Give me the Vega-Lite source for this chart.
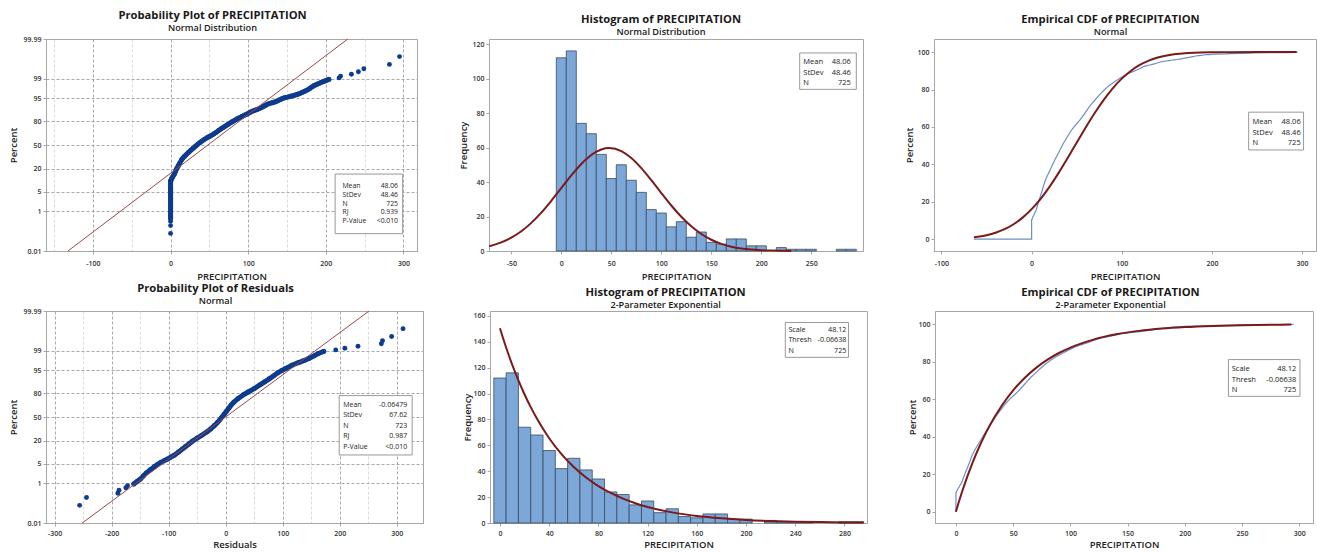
{
  "$schema": "https://vega.github.io/schema/vega-lite/v6.json",
  "background": "white",
  "padding": {"left": 7, "top": 9, "right": 0, "bottom": 0},
  "config": {
    "font": "Open Sans",
    "view": {"stroke": "#a6a6a6", "strokeWidth": 1},
    "axis": {"labelFontSize": 7, "labelFontWeight": 600, "labelColor": "#333333", "titleFontSize": 9.5, "titleFontWeight": 600, "titleColor": "#222222", "domainColor": "#a6a6a6", "tickColor": "#a6a6a6", "tickSize": 3, "labelPadding": 2, "grid": false, "labelOverlap": false, "tickCount": 30},
    "axisX": {"titlePadding": 5, "labelPadding": 5},
    "title": {"fontSize": 11.2, "fontWeight": "bold", "color": "#1a1a1a", "subtitleFontSize": 9.2, "subtitleFontWeight": 600, "subtitleColor": "#1a1a1a", "anchor": "middle", "frame": "bounds", "subtitlePadding": 3}
  },
  "datasets": {
    "one": [{"id": 1}],
    "precip": [
      {"x": -64, "pct": 0, "k": "s"}, {"x": 0, "pct": 0, "k": "s"},
      {"x": 0, "pct": 0.0965, "k": "o"}, {"x": 0, "pct": 0.234, "k": "o"}, {"x": 0, "pct": 0.372, "k": "o"},
      {"x": 0, "pct": 0.511, "k": "d"}, {"x": 0, "pct": 0.7, "k": "d"}, {"x": 0, "pct": 1, "k": "d"}, {"x": 0, "pct": 1.5, "k": "d"}, {"x": 0, "pct": 2.2, "k": "d"}, {"x": 0, "pct": 3, "k": "d"}, {"x": 0, "pct": 4, "k": "d"}, {"x": 0, "pct": 5.2, "k": "d"}, {"x": 0, "pct": 6.5, "k": "d"}, {"x": 0, "pct": 8, "k": "d"}, {"x": 0, "pct": 9.5, "k": "d"}, {"x": 0, "pct": 10.3, "k": "d"},
      {"x": 0.3, "pct": 10.4, "k": "d"}, {"x": 0.8, "pct": 11.2, "k": "d"}, {"x": 1.5, "pct": 12, "k": "d"}, {"x": 2.5, "pct": 13, "k": "d"}, {"x": 3.5, "pct": 14, "k": "d"}, {"x": 5, "pct": 15.5, "k": "d"}, {"x": 6.5, "pct": 18, "k": "d"}, {"x": 8, "pct": 20.5, "k": "d"}, {"x": 10, "pct": 23.4, "k": "d"}, {"x": 12, "pct": 26.5, "k": "d"}, {"x": 14, "pct": 29.8, "k": "d"}, {"x": 16, "pct": 32.4, "k": "d"}, {"x": 18, "pct": 34.5, "k": "d"}, {"x": 20, "pct": 36.5, "k": "d"}, {"x": 23, "pct": 39.6, "k": "d"}, {"x": 26, "pct": 42.6, "k": "d"}, {"x": 29, "pct": 45.4, "k": "d"}, {"x": 32, "pct": 48.2, "k": "d"}, {"x": 35, "pct": 51, "k": "d"}, {"x": 38, "pct": 53.4, "k": "d"}, {"x": 41, "pct": 55.8, "k": "d"}, {"x": 44, "pct": 58.1, "k": "d"}, {"x": 47, "pct": 60, "k": "d"}, {"x": 50, "pct": 61.7, "k": "d"}, {"x": 53, "pct": 63.4, "k": "d"}, {"x": 56, "pct": 65.3, "k": "d"}, {"x": 59, "pct": 67.3, "k": "d"}, {"x": 62, "pct": 69.4, "k": "d"}, {"x": 65, "pct": 71.4, "k": "d"}, {"x": 68, "pct": 73.1, "k": "d"}, {"x": 71, "pct": 74.8, "k": "d"}, {"x": 74, "pct": 76.5, "k": "d"}, {"x": 77, "pct": 78.1, "k": "d"}, {"x": 80, "pct": 79.5, "k": "d"}, {"x": 83, "pct": 80.9, "k": "d"}, {"x": 86, "pct": 82.1, "k": "d"}, {"x": 89, "pct": 83.1, "k": "d"}, {"x": 92, "pct": 84.1, "k": "d"}, {"x": 95, "pct": 85.1, "k": "d"}, {"x": 98, "pct": 86, "k": "d"}, {"x": 101, "pct": 86.9, "k": "d"}, {"x": 104, "pct": 87.8, "k": "d"}, {"x": 107, "pct": 88.5, "k": "d"}, {"x": 110, "pct": 89.1, "k": "d"}, {"x": 113, "pct": 89.7, "k": "d"}, {"x": 116, "pct": 90.3, "k": "d"}, {"x": 119, "pct": 91, "k": "d"}, {"x": 122, "pct": 91.7, "k": "d"}, {"x": 125, "pct": 92.4, "k": "d"}, {"x": 128, "pct": 92.8, "k": "d"}, {"x": 131, "pct": 93.1, "k": "d"}, {"x": 134, "pct": 93.4, "k": "d"}, {"x": 137, "pct": 93.8, "k": "d"}, {"x": 140, "pct": 94.3, "k": "d"}, {"x": 143, "pct": 94.7, "k": "d"}, {"x": 146, "pct": 95.05, "k": "d"}, {"x": 149, "pct": 95.25, "k": "d"}, {"x": 152, "pct": 95.45, "k": "d"}, {"x": 155, "pct": 95.65, "k": "d"}, {"x": 158, "pct": 95.85, "k": "d"}, {"x": 161, "pct": 96.05, "k": "d"}, {"x": 164, "pct": 96.25, "k": "d"}, {"x": 167, "pct": 96.5, "k": "d"}, {"x": 170, "pct": 96.8, "k": "d"}, {"x": 173, "pct": 97.05, "k": "d"}, {"x": 176, "pct": 97.3, "k": "d"}, {"x": 179, "pct": 97.6, "k": "d"}, {"x": 182, "pct": 97.9, "k": "d"}, {"x": 185, "pct": 98.15, "k": "d"}, {"x": 188, "pct": 98.3, "k": "d"}, {"x": 191, "pct": 98.45, "k": "d"}, {"x": 194, "pct": 98.6, "k": "d"}, {"x": 197, "pct": 98.7, "k": "d"}, {"x": 200, "pct": 98.8, "k": "d"}, {"x": 204, "pct": 98.93, "k": "d"},
      {"x": 217, "pct": 99.07, "k": "o"}, {"x": 219, "pct": 99.21, "k": "o"}, {"x": 233, "pct": 99.35, "k": "o"}, {"x": 242, "pct": 99.49, "k": "o"}, {"x": 249, "pct": 99.628, "k": "o"}, {"x": 282, "pct": 99.766, "k": "o"}, {"x": 295, "pct": 99.904, "k": "o"}
    ],
    "resid": [
      {"x": -256, "pct": 0.0968, "k": "o"}, {"x": -244, "pct": 0.235, "k": "o"}, {"x": -189, "pct": 0.373, "k": "o"}, {"x": -187, "pct": 0.511, "k": "o"}, {"x": -175, "pct": 0.65, "k": "o"}, {"x": -172, "pct": 0.788, "k": "o"},
      {"x": -161, "pct": 0.94, "k": "d"}, {"x": -155, "pct": 1.2, "k": "d"}, {"x": -149, "pct": 1.5, "k": "d"}, {"x": -144, "pct": 1.95, "k": "d"}, {"x": -139, "pct": 2.5, "k": "d"}, {"x": -132, "pct": 3.2, "k": "d"}, {"x": -125.3, "pct": 4, "k": "d"}, {"x": -120, "pct": 4.7, "k": "d"}, {"x": -114, "pct": 5.5, "k": "d"}, {"x": -108, "pct": 6.2, "k": "d"}, {"x": -101.7, "pct": 7, "k": "d"}, {"x": -96, "pct": 8, "k": "d"}, {"x": -90.1, "pct": 9, "k": "d"}, {"x": -82.5, "pct": 11, "k": "d"}, {"x": -75.9, "pct": 13, "k": "d"}, {"x": -70.2, "pct": 15, "k": "d"}, {"x": -64.9, "pct": 17, "k": "d"}, {"x": -57.8, "pct": 20, "k": "d"}, {"x": -49.9, "pct": 23, "k": "d"}, {"x": -42.1, "pct": 26, "k": "d"}, {"x": -33, "pct": 30, "k": "d"}, {"x": -25.8, "pct": 34, "k": "d"}, {"x": -19.9, "pct": 38, "k": "d"}, {"x": -14.9, "pct": 42, "k": "d"}, {"x": -10.2, "pct": 46, "k": "d"}, {"x": -6.4, "pct": 50, "k": "d"}, {"x": -2.5, "pct": 54, "k": "d"}, {"x": 1.5, "pct": 58, "k": "d"}, {"x": 5.4, "pct": 62, "k": "d"}, {"x": 9.4, "pct": 66, "k": "d"}, {"x": 14.6, "pct": 70, "k": "d"}, {"x": 21.5, "pct": 74, "k": "d"}, {"x": 30.5, "pct": 78, "k": "d"}, {"x": 39.6, "pct": 81, "k": "d"}, {"x": 50, "pct": 84, "k": "d"}, {"x": 60, "pct": 87, "k": "d"}, {"x": 67.8, "pct": 89, "k": "d"}, {"x": 76.5, "pct": 91, "k": "d"}, {"x": 83.7, "pct": 92.5, "k": "d"}, {"x": 91.5, "pct": 94, "k": "d"}, {"x": 98, "pct": 94.8, "k": "d"}, {"x": 104.5, "pct": 95.5, "k": "d"}, {"x": 115.7, "pct": 96.5, "k": "d"}, {"x": 128, "pct": 97.2, "k": "d"}, {"x": 137, "pct": 97.6, "k": "d"}, {"x": 146, "pct": 98, "k": "d"}, {"x": 155, "pct": 98.4, "k": "d"}, {"x": 162.6, "pct": 98.7, "k": "d"}, {"x": 172, "pct": 98.93, "k": "d"},
      {"x": 193, "pct": 99.074, "k": "o"}, {"x": 209, "pct": 99.212, "k": "o"}, {"x": 232, "pct": 99.35, "k": "o"}, {"x": 273, "pct": 99.489, "k": "o"}, {"x": 275, "pct": 99.627, "k": "o"}, {"x": 291, "pct": 99.765, "k": "o"}, {"x": 311, "pct": 99.903, "k": "o"}
    ],
    "hist": [
      {"b0": -5, "b1": 5, "n": 112}, {"b0": 5, "b1": 15, "n": 116}, {"b0": 15, "b1": 25, "n": 74}, {"b0": 25, "b1": 35, "n": 68}, {"b0": 35, "b1": 45, "n": 56}, {"b0": 45, "b1": 55, "n": 42}, {"b0": 55, "b1": 65, "n": 50}, {"b0": 65, "b1": 75, "n": 41}, {"b0": 75, "b1": 85, "n": 34}, {"b0": 85, "b1": 95, "n": 24}, {"b0": 95, "b1": 105, "n": 22}, {"b0": 105, "b1": 115, "n": 14}, {"b0": 115, "b1": 125, "n": 17}, {"b0": 125, "b1": 135, "n": 8}, {"b0": 135, "b1": 145, "n": 11}, {"b0": 145, "b1": 155, "n": 5}, {"b0": 155, "b1": 165, "n": 4}, {"b0": 165, "b1": 175, "n": 7}, {"b0": 175, "b1": 185, "n": 7}, {"b0": 185, "b1": 195, "n": 3}, {"b0": 195, "b1": 205, "n": 3}, {"b0": 215, "b1": 225, "n": 2}, {"b0": 225, "b1": 235, "n": 1}, {"b0": 235, "b1": 245, "n": 1}, {"b0": 245, "b1": 255, "n": 1}, {"b0": 275, "b1": 285, "n": 1}, {"b0": 285, "b1": 295, "n": 1}
    ],
    "npdf": [
      {"x": -72, "f": 2.77}, {"x": -60, "f": 4.97}, {"x": -50, "f": 7.71}, {"x": -40, "f": 11.45}, {"x": -30, "f": 16.3}, {"x": -20, "f": 22.26}, {"x": -10, "f": 29.12}, {"x": 0, "f": 36.49}, {"x": 10, "f": 43.84}, {"x": 20, "f": 50.47}, {"x": 30, "f": 55.68}, {"x": 40, "f": 58.86}, {"x": 48, "f": 59.68}, {"x": 60, "f": 57.9}, {"x": 70, "f": 53.87}, {"x": 80, "f": 48.03}, {"x": 90, "f": 41.04}, {"x": 100, "f": 33.61}, {"x": 110, "f": 26.37}, {"x": 120, "f": 19.83}, {"x": 130, "f": 14.29}, {"x": 140, "f": 9.87}, {"x": 150, "f": 6.53}, {"x": 160, "f": 4.14}, {"x": 170, "f": 2.52}, {"x": 180, "f": 1.47}, {"x": 190, "f": 0.82}, {"x": 200, "f": 0.44}, {"x": 210, "f": 0.22}, {"x": 220, "f": 0.11}, {"x": 230, "f": 0.05}
    ],
    "epdf": [
      {"x": 0, "f": 150.5}, {"x": 5, "f": 135.6}, {"x": 10, "f": 122.2}, {"x": 15, "f": 110.2}, {"x": 20, "f": 99.3}, {"x": 25, "f": 89.5}, {"x": 30, "f": 80.7}, {"x": 40, "f": 65.5}, {"x": 50, "f": 53.2}, {"x": 60, "f": 43.2}, {"x": 70, "f": 35.1}, {"x": 80, "f": 28.5}, {"x": 90, "f": 23.2}, {"x": 100, "f": 18.8}, {"x": 110, "f": 15.3}, {"x": 120, "f": 12.4}, {"x": 140, "f": 8.2}, {"x": 160, "f": 5.4}, {"x": 180, "f": 3.6}, {"x": 200, "f": 2.36}, {"x": 220, "f": 1.56}, {"x": 240, "f": 1.03}, {"x": 260, "f": 0.68}, {"x": 280, "f": 0.45}, {"x": 296, "f": 0.33}
    ],
    "ncdf": [
      {"x": -64, "p": 1.04}, {"x": -50, "p": 2.15}, {"x": -40, "p": 3.46}, {"x": -30, "p": 5.36}, {"x": -20, "p": 8.01}, {"x": -10, "p": 11.54}, {"x": 0, "p": 16.07}, {"x": 10, "p": 21.61}, {"x": 20, "p": 28.13}, {"x": 30, "p": 35.47}, {"x": 40, "p": 43.4}, {"x": 50, "p": 51.6}, {"x": 60, "p": 59.73}, {"x": 70, "p": 67.46}, {"x": 80, "p": 74.51}, {"x": 90, "p": 80.66}, {"x": 100, "p": 85.81}, {"x": 110, "p": 89.94}, {"x": 120, "p": 93.12}, {"x": 130, "p": 95.46}, {"x": 140, "p": 97.11}, {"x": 150, "p": 98.23}, {"x": 160, "p": 98.96}, {"x": 170, "p": 99.41}, {"x": 180, "p": 99.68}, {"x": 200, "p": 99.91}, {"x": 220, "p": 99.98}, {"x": 250, "p": 100}, {"x": 294, "p": 100}
    ],
    "xcdf": [
      {"x": -0.066, "p": 0}, {"x": 2.5, "p": 5.19}, {"x": 5, "p": 9.99}, {"x": 10, "p": 18.88}, {"x": 15, "p": 26.88}, {"x": 20, "p": 34.1}, {"x": 25, "p": 40.6}, {"x": 30, "p": 46.46}, {"x": 40, "p": 56.51}, {"x": 50, "p": 64.67}, {"x": 60, "p": 71.3}, {"x": 70, "p": 76.68}, {"x": 80, "p": 81.06}, {"x": 90, "p": 84.61}, {"x": 100, "p": 87.5}, {"x": 120, "p": 91.75}, {"x": 140, "p": 94.56}, {"x": 160, "p": 96.41}, {"x": 180, "p": 97.63}, {"x": 200, "p": 98.44}, {"x": 225, "p": 99.07}, {"x": 250, "p": 99.45}, {"x": 275, "p": 99.67}, {"x": 293, "p": 99.77}
    ],
    "fit1": [{"x": -132.2, "pct": 0.01}, {"x": 228.3, "pct": 99.99}],
    "fit4": [{"x": -251.5, "pct": 0.01}, {"x": 251.4, "pct": 99.99}]
  },
  "spacing": 1,
  "vconcat": [
    {
      "spacing": 40,
      "hconcat": [
        {
          "width": 371, "height": 212,
          "title": {"text": "Probability Plot of PRECIPITATION", "subtitle": "Normal Distribution", "offset": 1.5},
          "layer": [
            {
              "data": {"name": "precip"},
              "transform": [{"filter": "datum.k === 'd'"}, {"calculate": "quantileNormal(datum.pct / 100)", "as": "z"}],
              "mark": {"type": "line", "color": "#0d3b8e", "strokeWidth": 5, "strokeCap": "round", "strokeJoin": "round"},
              "encoding": {
                "x": {"field": "x", "type": "quantitative", "title": "PRECIPITATION", "scale": {"domain": [-160.5, 317.5], "nice": false, "zero": false},
                      "axis": {"values": [-150, -100, -50, 0, 50, 100, 150, 200, 250, 300], "grid": true, "gridDash": [3, 2],
                               "labelExpr": "datum.value % 100 === 0 ? '' + datum.value : ''",
                               "gridColor": {"condition": {"test": "datum.value % 100 === 0", "value": "#a8a8a8"}, "value": "#dcdcdc"},
                               "tickOpacity": {"condition": {"test": "datum.value % 100 === 0", "value": 1}, "value": 0}}},
                "y": {"field": "z", "type": "quantitative", "title": "Percent", "scale": {"domain": [-3.719016, 3.719016], "nice": false, "zero": false},
                      "axis": {"values": [-3.719016, -2.326348, -1.644854, -0.841621, 0, 0.841621, 1.644854, 2.326348, 3.719016], "grid": true, "gridDash": [3, 2], "gridColor": "#a8a8a8",
                               "labelExpr": "'' + round(cumulativeNormal(datum.value) * 10000) / 100", "titlePadding": 5}},
                "order": {"field": "pct", "type": "quantitative"}
              }
            },
            {
              "data": {"name": "precip"},
              "transform": [{"filter": "datum.k !== 's'"}, {"calculate": "quantileNormal(datum.pct / 100)", "as": "z"}],
              "mark": {"type": "point", "filled": true, "opacity": 1, "size": 24, "color": "#0d3b8e"},
              "encoding": {"x": {"field": "x", "type": "quantitative", "title": "PRECIPITATION"}, "y": {"field": "z", "type": "quantitative", "title": "Percent"}}
            },
            {
              "data": {"name": "fit1"},
              "transform": [{"calculate": "quantileNormal(datum.pct / 100)", "as": "z"}],
              "mark": {"type": "line", "color": "#9e4646", "strokeWidth": 1},
              "encoding": {"x": {"field": "x", "type": "quantitative", "title": "PRECIPITATION"}, "y": {"field": "z", "type": "quantitative", "title": "Percent"}}
            },
            {
              "data": {"name": "one"},
              "mark": {"type": "rect", "fill": "white", "stroke": "#999999", "strokeWidth": 1},
              "encoding": {"x": {"datum": 212, "type": "quantitative", "title": "PRECIPITATION"}, "x2": {"datum": 299}, "y": {"datum": -1.02, "type": "quantitative", "title": "Percent"}, "y2": {"datum": -3.11}}
            },
            {
              "data": {"name": "one"},
              "mark": {"type": "text", "text": ["Mean", "StDev", "N", "RJ", "P-Value"], "align": "left", "baseline": "alphabetic", "fontSize": 6.8, "lineHeight": 8.7, "color": "#222222"},
              "encoding": {"x": {"datum": 221.5, "type": "quantitative", "title": "PRECIPITATION"}, "y": {"datum": -1.52, "type": "quantitative", "title": "Percent"}}
            },
            {
              "data": {"name": "one"},
              "mark": {"type": "text", "text": ["48.06", "48.46", "725", "0.939", "<0.010"], "align": "right", "baseline": "alphabetic", "fontSize": 6.8, "lineHeight": 8.7, "color": "#222222"},
              "encoding": {"x": {"datum": 293, "type": "quantitative", "title": "PRECIPITATION"}, "y": {"datum": -1.52, "type": "quantitative", "title": "Percent"}}
            }
          ]
        },
        {
          "width": 374, "height": 212,
          "title": {"text": "Histogram of PRECIPITATION", "subtitle": "Normal Distribution", "offset": 1.5},
          "layer": [
            {
              "data": {"name": "hist"},
              "mark": {"type": "bar", "fill": "#7ba7d9", "stroke": "#3b4a5e", "strokeWidth": 0.8},
              "encoding": {
                "x": {"field": "b0", "type": "quantitative", "title": "PRECIPITATION", "scale": {"domain": [-72.3, 301.7], "nice": false, "zero": false},
                      "axis": {"values": [-50, 0, 50, 100, 150, 200, 250], "labelExpr": "'' + datum.value"}},
                "x2": {"field": "b1"},
                "y": {"field": "n", "type": "quantitative", "title": "Frequency", "scale": {"domain": [0, 122.9], "nice": false, "zero": false},
                      "axis": {"values": [0, 20, 40, 60, 80, 100, 120], "titlePadding": 3}},
                "y2": {"datum": 0}
              }
            },
            {
              "data": {"name": "npdf"},
              "mark": {"type": "line", "color": "#7a1a1a", "strokeWidth": 2, "interpolate": "monotone"},
              "encoding": {"x": {"field": "x", "type": "quantitative", "title": "PRECIPITATION"}, "y": {"field": "f", "type": "quantitative", "title": "Frequency"}}
            },
            {
              "data": {"name": "one"},
              "mark": {"type": "rect", "fill": "white", "stroke": "#999999", "strokeWidth": 1},
              "encoding": {"x": {"datum": 238.4, "type": "quantitative", "title": "PRECIPITATION"}, "x2": {"datum": 295}, "y": {"datum": 114.8, "type": "quantitative", "title": "Frequency"}, "y2": {"datum": 93.7}}
            },
            {
              "data": {"name": "one"},
              "mark": {"type": "text", "text": ["Mean", "StDev", "N"], "align": "left", "baseline": "alphabetic", "fontSize": 7.5, "lineHeight": 10.7, "color": "#222222"},
              "encoding": {"x": {"datum": 242, "type": "quantitative", "title": "PRECIPITATION"}, "y": {"datum": 108.4, "type": "quantitative", "title": "Frequency"}}
            },
            {
              "data": {"name": "one"},
              "mark": {"type": "text", "text": ["48.06", "48.46", "725"], "align": "right", "baseline": "alphabetic", "fontSize": 7.5, "lineHeight": 10.7, "color": "#222222"},
              "encoding": {"x": {"datum": 289.5, "type": "quantitative", "title": "PRECIPITATION"}, "y": {"datum": 108.4, "type": "quantitative", "title": "Frequency"}}
            }
          ]
        },
        {
          "width": 382, "height": 212,
          "title": {"text": "Empirical CDF of PRECIPITATION", "subtitle": "Normal", "offset": 1.5},
          "layer": [
            {
              "data": {"name": "precip"},
              "mark": {"type": "line", "color": "#6e8fc6", "strokeWidth": 1.2},
              "encoding": {
                "x": {"field": "x", "type": "quantitative", "title": "PRECIPITATION", "scale": {"domain": [-108.3, 315.5], "nice": false, "zero": false},
                      "axis": {"values": [-100, 0, 100, 200, 300], "labelExpr": "'' + datum.value"}},
                "y": {"field": "pct", "type": "quantitative", "title": "Percent", "scale": {"domain": [-6.3, 107], "nice": false, "zero": false},
                      "axis": {"values": [0, 20, 40, 60, 80, 100], "titlePadding": 2}},
                "order": [{"field": "pct", "type": "quantitative"}, {"field": "x", "type": "quantitative"}]
              }
            },
            {
              "data": {"name": "ncdf"},
              "mark": {"type": "line", "color": "#7a1a1a", "strokeWidth": 2, "interpolate": "monotone"},
              "encoding": {"x": {"field": "x", "type": "quantitative", "title": "PRECIPITATION"}, "y": {"field": "p", "type": "quantitative", "title": "Percent"}}
            },
            {
              "data": {"name": "one"},
              "mark": {"type": "rect", "fill": "white", "stroke": "#999999", "strokeWidth": 1},
              "encoding": {"x": {"datum": 240.8, "type": "quantitative", "title": "PRECIPITATION"}, "x2": {"datum": 301.7}, "y": {"datum": 67.9, "type": "quantitative", "title": "Percent"}, "y2": {"datum": 47.7}}
            },
            {
              "data": {"name": "one"},
              "mark": {"type": "text", "text": ["Mean", "StDev", "N"], "align": "left", "baseline": "alphabetic", "fontSize": 7.5, "lineHeight": 10.3, "color": "#222222"},
              "encoding": {"x": {"datum": 245, "type": "quantitative", "title": "PRECIPITATION"}, "y": {"datum": 61.4, "type": "quantitative", "title": "Percent"}}
            },
            {
              "data": {"name": "one"},
              "mark": {"type": "text", "text": ["48.06", "48.46", "725"], "align": "right", "baseline": "alphabetic", "fontSize": 7.5, "lineHeight": 10.3, "color": "#222222"},
              "encoding": {"x": {"datum": 298.5, "type": "quantitative", "title": "PRECIPITATION"}, "y": {"datum": 61.4, "type": "quantitative", "title": "Percent"}}
            }
          ]
        }
      ]
    },
    {
      "spacing": 38,
      "hconcat": [
        {
          "width": 377, "height": 212,
          "title": {"text": "Probability Plot of Residuals", "subtitle": "Normal", "offset": 0.5},
          "layer": [
            {
              "data": {"name": "resid"},
              "transform": [{"filter": "datum.k === 'd'"}, {"calculate": "quantileNormal(datum.pct / 100)", "as": "z"}],
              "mark": {"type": "line", "color": "#0d3b8e", "strokeWidth": 5, "strokeCap": "round", "strokeJoin": "round"},
              "encoding": {
                "x": {"field": "x", "type": "quantitative", "title": "Residuals", "scale": {"domain": [-315, 346], "nice": false, "zero": false},
                      "axis": {"values": [-300, -250, -200, -150, -100, -50, 0, 50, 100, 150, 200, 250, 300], "grid": true, "gridDash": [3, 2], "labelPadding": 3, "titlePadding": 3,
                               "labelExpr": "datum.value % 100 === 0 ? '' + datum.value : ''",
                               "gridColor": {"condition": {"test": "datum.value % 100 === 0", "value": "#a8a8a8"}, "value": "#dcdcdc"},
                               "tickOpacity": {"condition": {"test": "datum.value % 100 === 0", "value": 1}, "value": 0}}},
                "y": {"field": "z", "type": "quantitative", "title": "Percent", "scale": {"domain": [-3.719016, 3.719016], "nice": false, "zero": false},
                      "axis": {"values": [-3.719016, -2.326348, -1.644854, -0.841621, 0, 0.841621, 1.644854, 2.326348, 3.719016], "grid": true, "gridDash": [3, 2], "gridColor": "#a8a8a8",
                               "labelExpr": "'' + round(cumulativeNormal(datum.value) * 10000) / 100", "titlePadding": 5}},
                "order": {"field": "pct", "type": "quantitative"}
              }
            },
            {
              "data": {"name": "resid"},
              "transform": [{"calculate": "quantileNormal(datum.pct / 100)", "as": "z"}],
              "mark": {"type": "point", "filled": true, "opacity": 1, "size": 24, "color": "#0d3b8e"},
              "encoding": {"x": {"field": "x", "type": "quantitative", "title": "Residuals"}, "y": {"field": "z", "type": "quantitative", "title": "Percent"}}
            },
            {
              "data": {"name": "fit4"},
              "transform": [{"calculate": "quantileNormal(datum.pct / 100)", "as": "z"}],
              "mark": {"type": "line", "color": "#9e4646", "strokeWidth": 1},
              "encoding": {"x": {"field": "x", "type": "quantitative", "title": "Residuals"}, "y": {"field": "z", "type": "quantitative", "title": "Percent"}}
            },
            {
              "data": {"name": "one"},
              "mark": {"type": "rect", "fill": "white", "stroke": "#999999", "strokeWidth": 1},
              "encoding": {"x": {"datum": 199.1, "type": "quantitative", "title": "Residuals"}, "x2": {"datum": 327}, "y": {"datum": 0.75, "type": "quantitative", "title": "Percent"}, "y2": {"datum": -1.332}}
            },
            {
              "data": {"name": "one"},
              "mark": {"type": "text", "text": ["Mean", "StDev", "N", "RJ", "P-Value"], "align": "left", "baseline": "alphabetic", "fontSize": 7, "lineHeight": 10.4, "color": "#222222"},
              "encoding": {"x": {"datum": 206, "type": "quantitative", "title": "Residuals"}, "y": {"datum": 0.35, "type": "quantitative", "title": "Percent"}}
            },
            {
              "data": {"name": "one"},
              "mark": {"type": "text", "text": ["-0.06479", "67.62", "723", "0.987", "<0.010"], "align": "right", "baseline": "alphabetic", "fontSize": 7, "lineHeight": 10.4, "color": "#222222"},
              "encoding": {"x": {"datum": 318.3, "type": "quantitative", "title": "Residuals"}, "y": {"datum": 0.35, "type": "quantitative", "title": "Percent"}}
            }
          ]
        },
        {
          "width": 377, "height": 212,
          "title": {"text": "Histogram of PRECIPITATION", "subtitle": "2-Parameter Exponential", "offset": 0.5},
          "layer": [
            {
              "data": {"name": "hist"},
              "mark": {"type": "bar", "fill": "#7ba7d9", "stroke": "#3b4a5e", "strokeWidth": 0.8},
              "encoding": {
                "x": {"field": "b0", "type": "quantitative", "title": "PRECIPITATION", "scale": {"domain": [-8.1, 298.3], "nice": false, "zero": false},
                      "axis": {"values": [0, 40, 80, 120, 160, 200, 240, 280], "labelExpr": "'' + datum.value", "labelPadding": 3, "titlePadding": 3}},
                "x2": {"field": "b1"},
                "y": {"field": "n", "type": "quantitative", "title": "Frequency", "scale": {"domain": [0, 163.8], "nice": false, "zero": false},
                      "axis": {"values": [0, 20, 40, 60, 80, 100, 120, 140, 160], "titlePadding": 0}},
                "y2": {"datum": 0}
              }
            },
            {
              "data": {"name": "epdf"},
              "mark": {"type": "line", "color": "#7a1a1a", "strokeWidth": 2, "interpolate": "monotone"},
              "encoding": {"x": {"field": "x", "type": "quantitative", "title": "PRECIPITATION"}, "y": {"field": "f", "type": "quantitative", "title": "Frequency"}}
            },
            {
              "data": {"name": "one"},
              "mark": {"type": "rect", "fill": "white", "stroke": "#999999", "strokeWidth": 1},
              "encoding": {"x": {"datum": 231.9, "type": "quantitative", "title": "PRECIPITATION"}, "x2": {"datum": 283.3}, "y": {"datum": 154.9, "type": "quantitative", "title": "Frequency"}, "y2": {"datum": 128}}
            },
            {
              "data": {"name": "one"},
              "mark": {"type": "text", "text": ["Scale", "Thresh", "N"], "align": "left", "baseline": "alphabetic", "fontSize": 7.2, "lineHeight": 10.5, "color": "#222222"},
              "encoding": {"x": {"datum": 234.4, "type": "quantitative", "title": "PRECIPITATION"}, "y": {"datum": 147.9, "type": "quantitative", "title": "Frequency"}}
            },
            {
              "data": {"name": "one"},
              "mark": {"type": "text", "text": ["48.12", "-0.06638", "725"], "align": "right", "baseline": "alphabetic", "fontSize": 7.2, "lineHeight": 10.5, "color": "#222222"},
              "encoding": {"x": {"datum": 281.6, "type": "quantitative", "title": "PRECIPITATION"}, "y": {"datum": 147.9, "type": "quantitative", "title": "Frequency"}}
            }
          ]
        },
        {
          "width": 378, "height": 212,
          "title": {"text": "Empirical CDF of PRECIPITATION", "subtitle": "2-Parameter Exponential", "offset": 0.5},
          "layer": [
            {
              "data": {"name": "precip"},
              "transform": [{"filter": "datum.x >= 0"}],
              "mark": {"type": "line", "color": "#6e8fc6", "strokeWidth": 1.2},
              "encoding": {
                "x": {"field": "x", "type": "quantitative", "title": "PRECIPITATION", "scale": {"domain": [-18.3, 312], "nice": false, "zero": false},
                      "axis": {"values": [0, 50, 100, 150, 200, 250, 300], "labelExpr": "'' + datum.value", "labelPadding": 3, "titlePadding": 3}},
                "y": {"field": "pct", "type": "quantitative", "title": "Percent", "scale": {"domain": [-6, 107], "nice": false, "zero": false},
                      "axis": {"values": [0, 20, 40, 60, 80, 100], "titlePadding": 0}},
                "order": [{"field": "pct", "type": "quantitative"}, {"field": "x", "type": "quantitative"}]
              }
            },
            {
              "data": {"name": "xcdf"},
              "mark": {"type": "line", "color": "#7a1a1a", "strokeWidth": 2, "interpolate": "monotone"},
              "encoding": {"x": {"field": "x", "type": "quantitative", "title": "PRECIPITATION"}, "y": {"field": "p", "type": "quantitative", "title": "Percent"}}
            },
            {
              "data": {"name": "one"},
              "mark": {"type": "rect", "fill": "white", "stroke": "#999999", "strokeWidth": 1},
              "encoding": {"x": {"datum": 238.1, "type": "quantitative", "title": "PRECIPITATION"}, "x2": {"datum": 300.6}, "y": {"datum": 81.1, "type": "quantitative", "title": "Percent"}, "y2": {"datum": 61.5}}
            },
            {
              "data": {"name": "one"},
              "mark": {"type": "text", "text": ["Scale", "Thresh", "N"], "align": "left", "baseline": "alphabetic", "fontSize": 7.5, "lineHeight": 10.8, "color": "#222222"},
              "encoding": {"x": {"datum": 241, "type": "quantitative", "title": "PRECIPITATION"}, "y": {"datum": 75.1, "type": "quantitative", "title": "Percent"}}
            },
            {
              "data": {"name": "one"},
              "mark": {"type": "text", "text": ["48.12", "-0.06638", "725"], "align": "right", "baseline": "alphabetic", "fontSize": 7.5, "lineHeight": 10.8, "color": "#222222"},
              "encoding": {"x": {"datum": 297.5, "type": "quantitative", "title": "PRECIPITATION"}, "y": {"datum": 75.1, "type": "quantitative", "title": "Percent"}}
            }
          ]
        }
      ]
    }
  ]
}
